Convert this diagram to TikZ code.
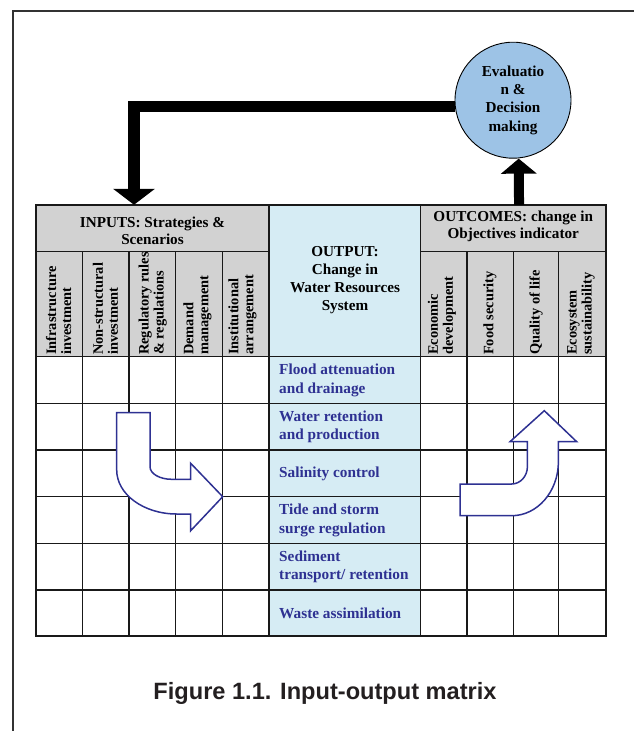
\documentclass[tikz,border=0pt]{standalone}
\usepackage{fontspec}
\setmainfont{Liberation Serif}
\newfontfamily\titlefont{Liberation Sans}
\usetikzlibrary{arrows.meta}
\definecolor{hdrgray}{RGB}{210,210,210}
\definecolor{outblue}{RGB}{214,236,244}
\definecolor{circblue}{RGB}{157,195,230}
\definecolor{navy}{RGB}{46,49,146}
\definecolor{framec}{RGB}{50,50,50}
\definecolor{titlec}{RGB}{35,31,32}
\begin{document}
\begin{tikzpicture}[x=1pt,y=-1pt,
  gridline/.style={line width=1.1pt, draw=black!90},
  hdrtext/.style={font=\fontsize{15.2}{17}\selectfont\bfseries, align=center, inner sep=0pt},
  rothdr/.style={rotate=90, anchor=west, align=left, inner sep=1pt, font=\fontsize{14.4}{15}\selectfont\bfseries},
  rowtext/.style={anchor=west, align=left, inner sep=0pt, text=navy, font=\fontsize{15.3}{18.5}\selectfont\bfseries},
  bigarrow/.style={line width=11.7pt, -{Triangle[length=16pt,width=41pt]}},
  smallbigarrow/.style={line width=10pt, -{Triangle[length=15pt,width=35pt]}},
  blockarrow/.style={draw=navy, fill=white, line width=1.5pt, line join=miter},
  cellnode/.style={inner sep=0pt, minimum height=46.7pt},
]
\useasboundingbox (0,0) rectangle (634,731);
% frame
\draw[line width=1.3pt, framec] (13,731) -- (13,11) -- (634,11);
% table fills
\fill[hdrgray] (36,205) rectangle (269,356.7);
\fill[hdrgray] (420.7,205) rectangle (606,356.7);
\fill[outblue] (269,205) rectangle (420.7,636);
\node[cellnode, minimum width=233pt] (inhead) at (152.5,228.35) {};
\node[cellnode, minimum width=185.3pt] (outhead) at (513.35,228.35) {};
% grid
\draw[gridline] (36,205) rectangle (606,636);
\draw[gridline] (36,251.7) -- (269,251.7) (420.7,251.7) -- (606,251.7);
\foreach \y in {356.7,403.3,450,496.7,543.3,590} \draw[gridline] (36,\y) -- (606,\y);
\foreach \x in {82.5,129,175.7,222.3} \draw[gridline] (\x,251.7) -- (\x,636);
\foreach \x in {269,420.7} \draw[gridline] (\x,205) -- (\x,636);
\foreach \x in {467,513.3,558.3} \draw[gridline] (\x,251.7) -- (\x,636);
% header texts
\node[hdrtext] (intext) at (152.5,230.5) {INPUTS: Strategies \&\\Scenarios};
\node[hdrtext] (outctext) at (513.3,226) {OUTCOMES: change in\\Objectives indicator};
\node[hdrtext, font=\fontsize{15.2}{18}\selectfont\bfseries] (outputtext) at (345,280) {OUTPUT:\\Change in\\Water Resources\\System};
% rotated headers
\node[rothdr] (h1) at (58.7,356) {Infrastructure\\investment};
\node[rothdr] (h2) at (105.5,356) {Non-structural\\investment};
\node[rothdr] (h3) at (152.8,356) {Regulatory rules\\\& regulations};
\node[rothdr] (h4) at (197.5,356) {Demand\\management};
\node[rothdr] (h5) at (242.5,356) {Institutional\\arrangement};
\node[rothdr] (o1) at (442,356) {Economic\\development};
\node[rothdr] (o2) at (490,356) {Food security};
\node[rothdr] (o3) at (536,356) {Quality of life};
\node[rothdr] (o4) at (581,356) {Ecosystem\\sustainability};
% row texts
\node[rowtext] (r1) at (279,380.5) {Flood attenuation\\and drainage};
\node[rowtext] (r2) at (279,427) {Water retention\\and production};
\node[rowtext] (r3) at (279,473.5) {Salinity control};
\node[rowtext] (r4) at (279,520.3) {Tide and storm\\surge regulation};
\node[rowtext] (r5) at (279,567) {Sediment\\transport/ retention};
\node[rowtext] (r6) at (279,613.5) {Waste assimilation};
% circle
\node[circle, draw=black, line width=0.9pt, fill=circblue, minimum size=116pt, inner sep=0pt,
      align=center, font=\fontsize{15.2}{18.2}\selectfont\bfseries] (eval) at (513,100.2)
      {Evaluatio\\n \&\\Decision\\making};
% connectors
\draw[bigarrow] ([yshift=-6.3pt]eval.west) -| ([xshift=-18.5pt]inhead.north);
\draw[smallbigarrow] ([xshift=5.7pt]outhead.north) -- ([xshift=5.7pt]eval.south);
% blue block arrows
\draw[blockarrow] (116.7,412.7) -- (150,412.7) -- (150,466.7)
  .. controls (150,473.7) and (159.7,479.3) .. (171.7,479.3)
  -- (190.7,479.3) -- (190.7,463.3) -- (222.7,496.7) -- (190.7,530.7) -- (190.7,514) -- (176.7,514)
  .. controls (143.6,514) and (116.7,494.3) .. (116.7,470) -- cycle;
\draw[blockarrow] (460,484) -- (511.7,484)
  .. controls (520.3,484) and (527.4,476.2) .. (527.4,466.7)
  -- (527.4,441.7) -- (510,441.7) -- (544.3,410.7) -- (576.7,441.7) -- (558.4,441.7) -- (558.4,461.7)
  .. controls (558.4,491.5) and (537.4,515.7) .. (511.7,515.7)
  -- (460,515.7) -- cycle;
% title
\node[font=\titlefont\fontsize{23.6}{26}\selectfont\bfseries, text=titlec, anchor=base, inner sep=0pt] (title) at (325,699) {Figure 1.1. Input-output matrix};
\end{tikzpicture}
\end{document}
